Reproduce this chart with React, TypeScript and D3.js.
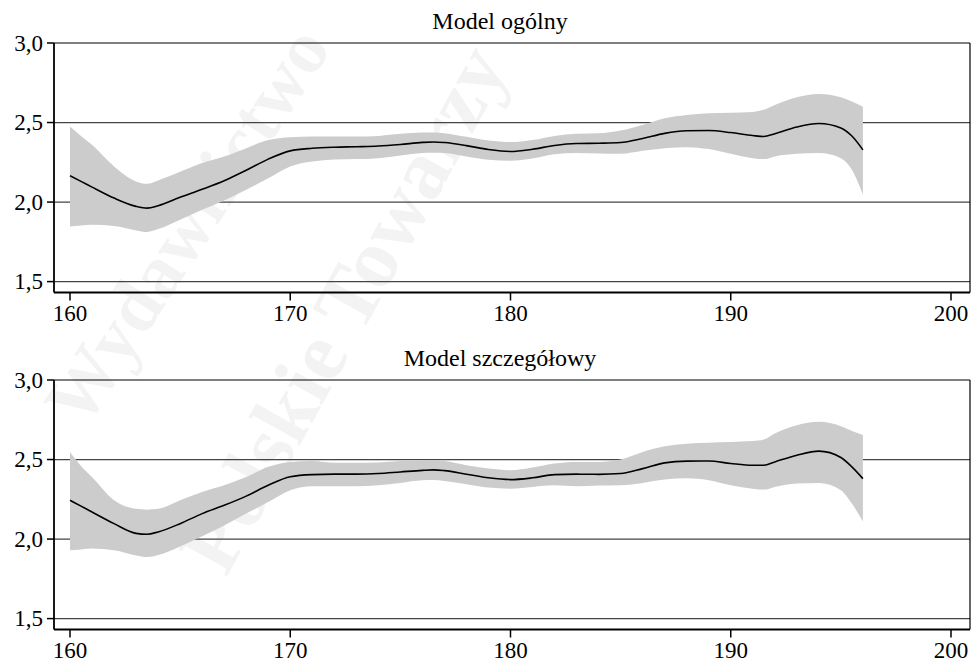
import React from 'react';
import * as d3 from 'd3';

// wzrost (cm) – wspólna siatka punktów dla obu modeli
const heights = [160, 160.5, 161, 162, 163, 163.5, 164, 165, 166, 167, 168, 169, 170, 171, 172, 173, 174, 175, 176, 176.5, 177, 178, 179, 180, 181, 182, 183, 184, 185, 186, 187, 188, 189, 190, 191, 191.5, 192, 193, 194, 195, 195.5, 196];

// Model ogólny
const generalMean = [2.165, 2.13, 2.094, 2.025, 1.973, 1.962, 1.977, 2.03, 2.08, 2.134, 2.2, 2.27, 2.322, 2.338, 2.345, 2.348, 2.352, 2.362, 2.375, 2.378, 2.374, 2.355, 2.33, 2.318, 2.332, 2.356, 2.368, 2.37, 2.374, 2.4, 2.432, 2.448, 2.45, 2.437, 2.418, 2.412, 2.43, 2.472, 2.494, 2.466, 2.415, 2.328];
const generalUpper = [2.475, 2.416, 2.36, 2.224, 2.13, 2.115, 2.136, 2.19, 2.245, 2.286, 2.339, 2.39, 2.408, 2.412, 2.412, 2.412, 2.416, 2.429, 2.437, 2.438, 2.433, 2.41, 2.387, 2.377, 2.39, 2.416, 2.429, 2.432, 2.45, 2.485, 2.527, 2.548, 2.559, 2.562, 2.567, 2.58, 2.61, 2.659, 2.68, 2.659, 2.632, 2.6];
const generalLower = [1.847, 1.852, 1.857, 1.85, 1.822, 1.812, 1.83, 1.889, 1.952, 2.01, 2.077, 2.15, 2.224, 2.255, 2.268, 2.27, 2.276, 2.293, 2.308, 2.31, 2.308, 2.287, 2.266, 2.26, 2.274, 2.3, 2.308, 2.305, 2.303, 2.322, 2.339, 2.345, 2.333, 2.303, 2.276, 2.27, 2.287, 2.303, 2.308, 2.276, 2.203, 2.046];

// Model szczegółowy
const detailMean = [2.244, 2.207, 2.17, 2.097, 2.036, 2.03, 2.045, 2.097, 2.16, 2.212, 2.27, 2.338, 2.392, 2.405, 2.408, 2.408, 2.412, 2.422, 2.432, 2.435, 2.43, 2.408, 2.385, 2.374, 2.385, 2.405, 2.408, 2.407, 2.412, 2.443, 2.479, 2.49, 2.491, 2.475, 2.464, 2.464, 2.485, 2.527, 2.553, 2.513, 2.454, 2.38];
const detailUpper = [2.548, 2.46, 2.39, 2.244, 2.19, 2.185, 2.19, 2.244, 2.296, 2.338, 2.39, 2.454, 2.485, 2.491, 2.48, 2.48, 2.482, 2.49, 2.496, 2.497, 2.49, 2.464, 2.443, 2.433, 2.45, 2.475, 2.485, 2.485, 2.5, 2.548, 2.584, 2.6, 2.606, 2.61, 2.616, 2.626, 2.664, 2.716, 2.737, 2.71, 2.68, 2.655];
const detailLower = [1.929, 1.935, 1.94, 1.93, 1.897, 1.887, 1.9, 1.954, 2.017, 2.086, 2.16, 2.233, 2.307, 2.332, 2.332, 2.332, 2.338, 2.353, 2.37, 2.371, 2.365, 2.345, 2.324, 2.317, 2.328, 2.338, 2.332, 2.336, 2.338, 2.353, 2.374, 2.382, 2.37, 2.338, 2.317, 2.311, 2.328, 2.349, 2.353, 2.307, 2.223, 2.11];

const xTicks = [160, 170, 180, 190, 200];
const yTicks = [1.5, 2.0, 2.5, 3.0];
const titles = ['Model ogólny', 'Model szczegółowy'];

const W = 971;
const H = 661;
const FONT = '"Liberation Serif", "Times New Roman", serif';
const fmt = (v: number) => v.toFixed(1).replace('.', ',');

type PanelProps = {
  top: number;
  title: string;
  mean: number[];
  lower: number[];
  upper: number[];
};

const Panel = ({ top, title, mean, lower, upper }: PanelProps) => {
  const left = 54;
  const right = 970;
  const bottom = top + 249.5;

  const x = d3.scaleLinear().domain([160, 200]).range([70, 951]);
  const y = d3.scaleLinear().domain([1.5, 3.0]).range([top + 238.6, top]);

  const pts = heights.map((h, i) => ({ h, m: mean[i], lo: lower[i], hi: upper[i] }));

  const area = d3.area<any>()
    .x(d => x(d.h))
    .y0(d => y(d.lo))
    .y1(d => y(d.hi))
    .curve(d3.curveMonotoneX);

  const line = d3.line<any>()
    .x(d => x(d.h))
    .y(d => y(d.m))
    .curve(d3.curveMonotoneX);

  return (
    <g>
      <text x={500} y={top - 14} textAnchor="middle" fontSize={24} fontFamily={FONT}>{title}</text>
      {yTicks.filter(t => t < 3).map(t => (
        <line key={'g' + t} x1={left} x2={right} y1={y(t)} y2={y(t)} stroke="#444" strokeWidth={1.2} />
      ))}
      <path d={area(pts) || ''} fill="#cccccc" />
      <path d={line(pts) || ''} fill="none" stroke="#000" strokeWidth={1.6} />
      {/* ramka */}
      <line x1={left} x2={right} y1={top} y2={top} stroke="#000" strokeWidth={1.2} />
      <line x1={right} x2={right} y1={top} y2={bottom} stroke="#000" strokeWidth={1.2} />
      <line x1={left} x2={right} y1={bottom} y2={bottom} stroke="#000" strokeWidth={1.8} />
      <line x1={left} x2={left} y1={top} y2={bottom} stroke="#000" strokeWidth={1.8} />
      {yTicks.map(t => (
        <g key={'y' + t}>
          <line x1={left - 7} x2={left} y1={y(t)} y2={y(t)} stroke="#000" strokeWidth={1.5} />
          <text x={43} y={y(t)} dy="0.34em" textAnchor="end" fontSize={23} fontFamily={FONT}>{fmt(t)}</text>
        </g>
      ))}
      {xTicks.map(t => (
        <g key={'x' + t}>
          <line x1={x(t)} x2={x(t)} y1={bottom} y2={bottom + 8} stroke="#000" strokeWidth={1.5} />
          <text x={x(t)} y={bottom + 28} textAnchor="middle" fontSize={23} fontFamily={FONT}>{t}</text>
        </g>
      ))}
    </g>
  );
};

export default function App() {
  return (
    <svg width={W} height={H} style={{ position: 'absolute', left: 0, top: 0, background: '#fff' }}>
      <rect width={W} height={H} fill="#fff" />
      {/* znak wodny */}
      <g fontFamily={FONT} fontWeight="bold" fill="#f3f3f3">
        <text transform="translate(84,430) rotate(-57)" fontSize={75}>Wydawnictwo</text>
        <text transform="translate(226,578) rotate(-61)" fontSize={84}>Polskie Towarzy</text>
      </g>
      <Panel top={43} title={titles[0]} mean={generalMean} lower={generalLower} upper={generalUpper} />
      <Panel top={380} title={titles[1]} mean={detailMean} lower={detailLower} upper={detailUpper} />
    </svg>
  );
}
